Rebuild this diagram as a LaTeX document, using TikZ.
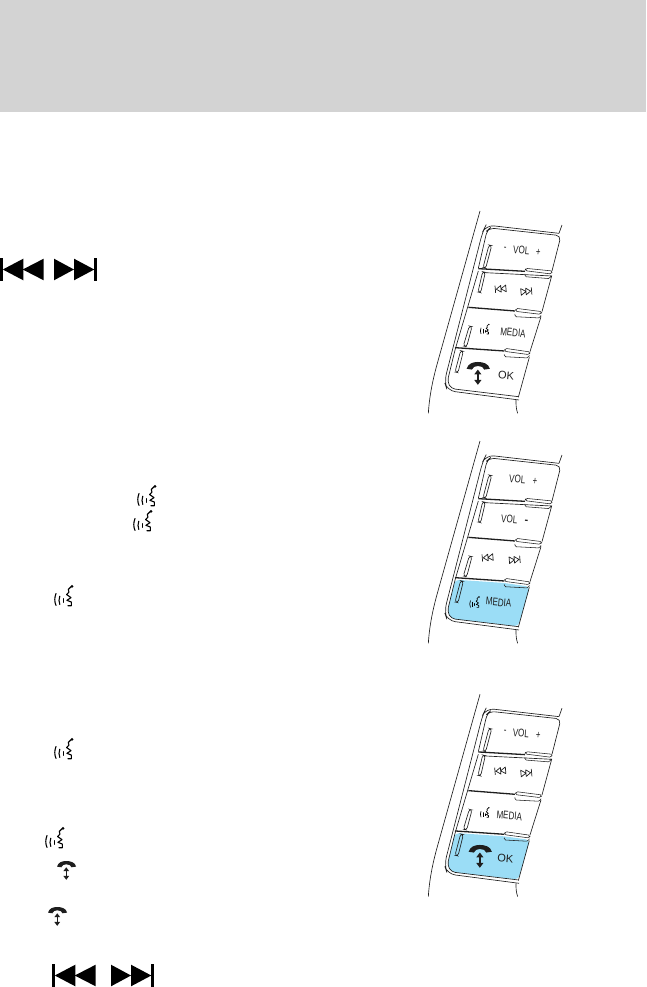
\documentclass[tikz,border=0pt]{standalone}
\usepackage{graphicx}
\usepackage{fontspec}
\setmainfont{Liberation Sans}
\definecolor{headgray}{RGB}{211,211,211}
\definecolor{keyblue}{RGB}{155,221,246}
\definecolor{ink}{RGB}{30,30,30}
\tikzset{
  thinline/.style={draw=ink,line width=.65pt},
  sepline/.style={draw=ink,line width=1.3pt},
  pill/.style={draw=ink,line width=.55pt,rounded corners=1.6pt},
  panellabel/.style={inner sep=0pt,rotate=-5,text=ink},
}
\newcommand{\vlw}{1.1pt}
% voice icon, local box 58x65, scaled
\newcommand{\voiceicon}[3]{%
  \begin{scope}[shift={(#1,#2)},scale=#3]
    \draw[black,line width=\vlw,line cap=round] (6,28) .. controls (1,40) and (1,52) .. (6,63);
    \draw[black,line width=\vlw,line cap=round] (17,36) .. controls (14,44) and (14,52) .. (17,60);
    \draw[black,line width=\vlw,line cap=round] (29,43) -- (29,54);
    \draw[black,line width=\vlw,line cap=round,line join=round] (50,8) -- (42,16) -- (44,24) -- (37,31) -- (50,40) -- (38,48) -- (51,53) -- (51,64) -- (41,64);
    \fill[black] (53,7) circle (4.5);
  \end{scope}}
% phone icon, local box 58x57, scaled
\newcommand{\phoneicon}[3]{%
  \begin{scope}[shift={(#1,#2)},scale=#3]
    \fill[ink] (0,17) .. controls (3,4) and (16,0) .. (28,0) .. controls (41,0) and (55,4) .. (58,17)
      -- (44,19) .. controls (43,13) and (36,10) .. (28,10) .. controls (21,10) and (15,13) .. (13,19) -- cycle;
    \fill[ink] (26,26) rectangle (30,50);
    \fill[ink] (28,19) -- (37,31) -- (19,31) -- cycle;
    \fill[ink] (28,57) -- (37,45) -- (19,45) -- cycle;
  \end{scope}}
% large solid skip icon: x, y, extra gap between the two halves
\newcommand{\skipicon}[3]{%
  \begin{scope}[shift={(#1,#2)}]
    \fill[black] (0,0) rectangle (2.8,23);
    \fill[black] (2.8,11.5) -- (23.3,0.7) -- (23.3,22.3) -- cycle;
    \fill[black] (22.7,11.5) -- (43.7,0.7) -- (43.7,22.3) -- cycle;
    \begin{scope}[xshift=#3]
      \fill[black] (54,0.7) -- (74,11.5) -- (54,22.3) -- cycle;
      \fill[black] (74,0.7) -- (94.3,11.5) -- (74,22.3) -- cycle;
      \fill[black] (94.3,0) rectangle (97,23);
    \end{scope}
  \end{scope}}
% small outline skip glyphs in panels, zoom-coordinates
\newcommand{\backglyph}[2]{%
  \begin{scope}[shift={(#1,#2)},rotate=5]
    \draw[ink,line width=.7pt,line join=round] (0,0) -- (0,22) (3,11) -- (17,1) -- (17,21) -- cycle (17,11) -- (32,1) -- (32,21) -- cycle;
  \end{scope}}
\newcommand{\nextglyph}[2]{%
  \begin{scope}[shift={(#1,#2)},rotate=5]
    \draw[ink,line width=.7pt,line join=round] (34,0) -- (34,22) (31,11) -- (17,1) -- (17,21) -- cycle (17,11) -- (2,1) -- (2,21) -- cycle;
  \end{scope}}
\newcommand{\lab}[4]{\node[panellabel] (#1) at (#2,#3) {\fontsize{11}{11}\selectfont\scalebox{.73}[1]{#4}};}
% common panel geometry, in zoom coordinates
\newcommand{\panelbase}{%
  \draw[thinline] (210,33) -- (82,490) .. controls (68,540) and (58,590) .. (55,640);
  \draw[thinline] (456,75) -- (447,100);
  \draw[thinline] (318,600) .. controls (318,615) and (318,625) .. (323,640);
  \draw[thinline,rounded corners=8pt] (447,100) -- (228,75) -- (218,95) -- (103,545) -- (112,572) -- (327,600);
  \draw[thinline,rounded corners=5pt] (205,205) -- (231,92) -- (240,84) -- (453,107) -- (426,213);
  \draw[thinline,rounded corners=4pt] (205,213) -- (135,450) -- (112,545) -- (124,566) -- (325,590);
  \draw[thinline] (225,218) -- (425,228) -- (396,335);
  \draw[thinline] (393,350) -- (360,455);
  \draw[sepline] (205,206) -- (345,214);
  \draw[sepline] (175,322) -- (315,333);
  \draw[sepline] (135,443) -- (283,453);
  \draw[pill] (345,212) -- (347,205) -- (428,213) -- (424,222) -- cycle;
  \draw[pill] (345,222) -- (344,230) -- (420,236) -- (423,226);
  \draw[pill] (316,334) -- (318,325) -- (396,335) -- (392,343) -- cycle;
  \draw[pill] (315,342) -- (314,350) -- (390,354) -- (393,346);
  \draw[pill] (283,454) -- (285,445) -- (361,456) -- (358,464) -- cycle;
  \draw[pill] (283,463) -- (282,470) -- (355,474) -- (358,466);
  \draw[thinline,rounded corners=2.5pt] (237,135) -- (245,137) -- (227,205) -- (219,203) -- cycle;
  \draw[thinline,rounded corners=2.5pt] (218,215) -- (226,217) -- (212,278) -- (204,276) -- cycle;
  \draw[thinline,rounded corners=2.5pt] (178,378) -- (186,380) -- (170,440) -- (160,438) -- cycle;
  \draw[thinline,rounded corners=2.5pt] (152,452) -- (160,454) -- (144,518) -- (135,516) -- cycle;
  \draw[thinline] (358,472) -- (325,592);
}
\newcommand{\bluekey}{%
  \fill[keyblue,rounded corners=4pt] (135,449) -- (283,459) -- (360,470) -- (325,589) -- (124,566) -- (112,545) -- cycle;
}
\begin{document}
\begin{tikzpicture}[x=1pt,y=-1pt]
\useasboundingbox (0,0) rectangle (646,987);
\fill[headgray] (0,0) rectangle (646,112);

% text-column icons
\skipicon{0}{258}{0}
\voiceicon{137}{484}{.34}
\voiceicon{133}{509}{.34}
\voiceicon{54}{584}{.34}
\voiceicon{54}{737}{.34}
\voiceicon{45}{826}{.34}
\phoneicon{57}{861}{.33}
\phoneicon{48}{907}{.33}
\skipicon{52}{964}{5}

% panel 1
\begin{scope}[shift={(410,200)},x=.3333pt,y=-.3333pt]
  \renewcommand{\vlw}{.65pt}
  \panelbase
  \lab{aminus}{285}{146}{-}
  \lab{avol}{334}{150}{VOL}
  \lab{aplus}{385}{157}{+}
  \backglyph{255}{257}
  \nextglyph{330}{265}
  \voiceicon{210}{370}{.5}
  \lab{amedia}{309}{398}{MEDIA}
  \phoneicon{170}{486}{1.2}
  \node[panellabel] (aok) at (288,526) {\fontsize{11}{11}\selectfont OK};
\end{scope}

% panel 2
\begin{scope}[shift={(410,430)},x=.3333pt,y=-.3333pt]
  \renewcommand{\vlw}{.65pt}
  \bluekey
  \panelbase
  \lab{bvol}{322}{147}{VOL}
  \lab{bplus}{375}{155}{+}
  \lab{bvoltwo}{298}{268}{VOL}
  \node[panellabel] (bminus) at (349,276) {\fontsize{11}{11}\selectfont\textbf{-}};
  \backglyph{216}{373}
  \nextglyph{295}{380}
  \voiceicon{178}{497}{.55}
  \lab{bmedia}{266}{517}{MEDIA}
\end{scope}

% panel 3
\begin{scope}[shift={(410,683.3)},x=.3333pt,y=-.3333pt]
  \renewcommand{\vlw}{.65pt}
  \bluekey
  \panelbase
  \lab{cminus}{285}{146}{-}
  \lab{cvol}{333}{150}{VOL}
  \lab{cplus}{385}{157}{+}
  \backglyph{254}{253}
  \nextglyph{330}{260}
  \voiceicon{210}{370}{.5}
  \lab{cmedia}{298}{397}{MEDIA}
  \phoneicon{176}{485}{1.2}
  \node[panellabel] (cok) at (286,525) {\fontsize{11}{11}\selectfont OK};
\end{scope}
\end{tikzpicture}
\end{document}
